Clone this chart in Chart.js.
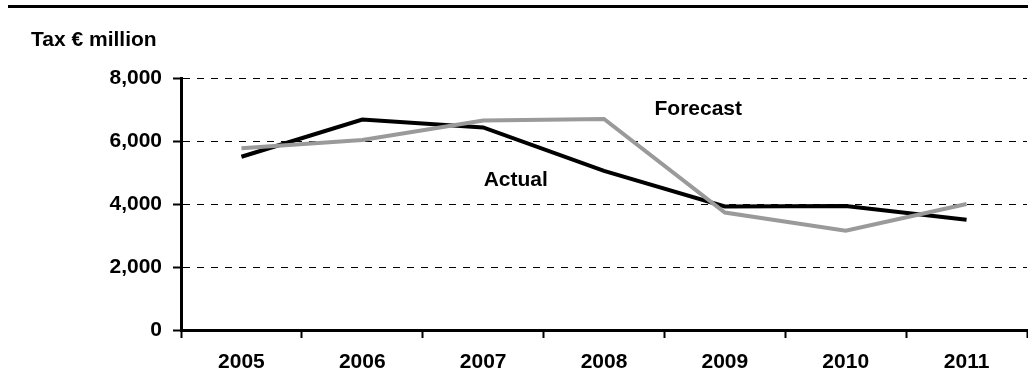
<!DOCTYPE html>
<html>
<head>
<meta charset="utf-8">
<title>Tax € million, 2005–2011</title>
<script src="https://cdn.jsdelivr.net/npm/chart.js@4/dist/chart.umd.min.js"></script>
<style>
  html, body { margin: 0; padding: 0; background: #ffffff; }
  canvas { display: block; }
</style>
</head>
<body>
<canvas id="taxChart" width="1028" height="391"></canvas>
<script>
// Tax receipts, € million
const years = ['2005', '2006', '2007', '2008', '2009', '2010', '2011'];
const actualTax = [5500, 6680, 6430, 5050, 3920, 3940, 3500];
const forecastTax = [5770, 6030, 6650, 6700, 3730, 3150, 4000];
const yTicks = [0, 2000, 4000, 6000, 8000];

const FONT_FAMILY = '"Liberation Sans", Arial, Helvetica, sans-serif';
const FONT_SIZE = 21;
const LABEL_FONT = 'bold ' + FONT_SIZE + 'px ' + FONT_FAMILY;

function withThousands(v) {
  return String(v).replace(/\B(?=(\d{3})+(?!\d))/g, ',');
}

// Heading rule, unit caption and in-chart series names
const annotations = {
  id: 'annotations',
  afterDraw(chart, args, opts) {
    const ctx = chart.ctx;
    const xs = chart.scales.x;
    const ys = chart.scales.y;
    ctx.save();
    // rule across the top
    ctx.strokeStyle = '#000';
    ctx.lineWidth = 3;
    ctx.beginPath();
    ctx.moveTo(8, 6.5);
    ctx.lineTo(chart.width, 6.5);
    ctx.stroke();
    // unit caption
    ctx.fillStyle = '#000';
    ctx.font = LABEL_FONT;
    ctx.textAlign = 'left';
    ctx.textBaseline = 'alphabetic';
    ctx.fillText(opts.unit, 31, 46);
    // series names placed in data space
    ctx.textAlign = 'center';
    ctx.textBaseline = 'middle';
    opts.names.forEach(n => {
      ctx.fillText(n.text, xs.getPixelForValue(n.at[0]), ys.getPixelForValue(n.at[1]));
    });
    ctx.restore();
  }
};

new Chart(document.getElementById('taxChart'), {
  type: 'line',
  data: {
    labels: years,
    datasets: [
      {
        label: 'Actual',
        data: actualTax,
        borderColor: '#000000',
        borderWidth: 4,
        pointRadius: 0,
        tension: 0,
        fill: false,
        order: 1
      },
      {
        label: 'Forecast',
        data: forecastTax,
        borderColor: '#9a9a9a',
        borderWidth: 4,
        pointRadius: 0,
        tension: 0,
        fill: false,
        order: 0
      }
    ]
  },
  options: {
    responsive: false,
    devicePixelRatio: 1,
    animation: false,
    layout: { padding: { top: 78, left: 0, right: 1, bottom: 0 } },
    plugins: {
      legend: { display: false },
      tooltip: { enabled: false },
      annotations: {
        unit: 'Tax € million',
        names: [
          { text: 'Forecast', at: [3.78, 7000] },
          { text: 'Actual', at: [2.27, 4760] }
        ]
      }
    },
    scales: {
      x: {
        type: 'category',
        offset: true,
        grid: {
          offset: true,
          drawOnChartArea: false,
          drawTicks: true,
          tickLength: 8,
          tickWidth: 2,
          tickColor: '#000'
        },
        border: { display: true, color: '#000', width: 3 },
        ticks: {
          color: '#000',
          font: { family: FONT_FAMILY, size: FONT_SIZE, weight: 'bold' },
          padding: 12,
          maxRotation: 0,
          autoSkip: false
        },
        afterFit(scale) { scale.height = 61; }
      },
      y: {
        min: 0,
        max: 8000,
        afterBuildTicks(scale) { scale.ticks = yTicks.map(v => ({ value: v })); },
        grid: {
          color: '#000',
          lineWidth: 1,
          drawTicks: true,
          tickLength: 8,
          tickWidth: 2,
          tickColor: '#000',
          tickBorderDash: []
        },
        border: { display: true, color: '#000', width: 3, dash: [7, 7] },
        ticks: {
          color: '#000',
          font: { family: FONT_FAMILY, size: FONT_SIZE, weight: 'bold' },
          padding: 11,
          callback: v => withThousands(v)
        },
        afterFit(scale) { scale.width = 181; }
      }
    }
  },
  plugins: [annotations]
});
</script>
</body>
</html>
